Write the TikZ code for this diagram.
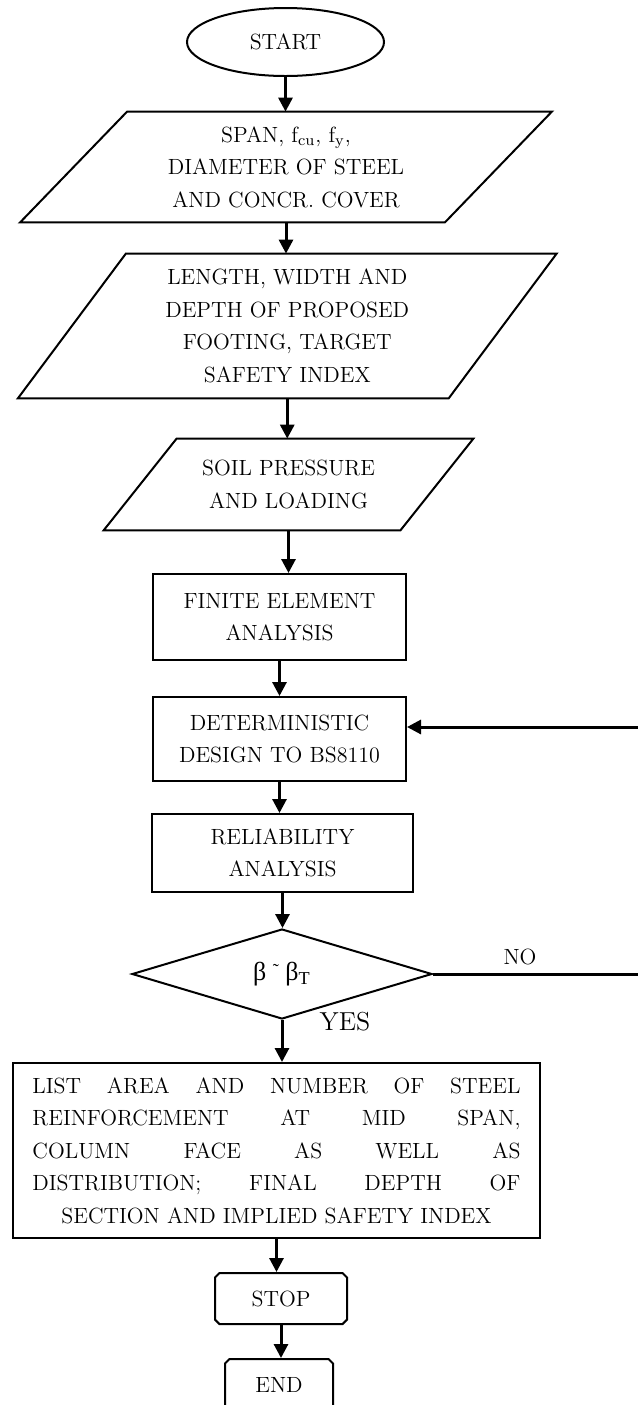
\documentclass[tikz,border=0pt]{standalone}
\usepackage{fontspec}
\newfontfamily\grk{Liberation Serif}
\usetikzlibrary{shapes.geometric,shapes.misc,arrows.meta,calc}
\begin{document}
\begin{tikzpicture}[x=0.5pt,y=-0.5pt,
  every node/.style={font=\fontsize{11}{16.25}\selectfont, align=center, inner sep=0pt},
  box/.style={draw, line width=1pt, rectangle},
  outline/.style={line width=1pt},
  arr/.style={line width=1.5pt, -{Triangle[width=7pt,length=7pt]}},
  fb/.style={line width=1.5pt},
  term/.style={draw, line width=1pt, chamfered rectangle, chamfered rectangle xsep=1.1pt, chamfered rectangle ysep=1.1pt}]
\useasboundingbox (0,0) rectangle (638,1405);

% START
\node[ellipse, draw, line width=1pt, minimum width=98.5pt, minimum height=34pt] (start) at (285.5,42) {START};

% parallelogram 1
\node[minimum width=212pt, minimum height=55pt] (p1) at (286,167)
  {SPAN, f\textsubscript{cu}, f\textsubscript{y},\\DIAMETER OF STEEL\\AND CONCR. COVER};
\draw[outline] ($(p1.north west)+(53.5,0)$) -- ($(p1.north east)+(53.5,0)$)
  -- ($(p1.south east)-(53.5,0)$) -- ($(p1.south west)-(53.5,0)$) -- cycle;

% parallelogram 2
\node[minimum width=215pt, minimum height=72pt] (p2) at (287.25,326)
  {LENGTH, WIDTH AND\\DEPTH OF PROPOSED\\FOOTING, TARGET\\SAFETY INDEX};
\draw[outline] ($(p2.north west)+(54,0)$) -- ($(p2.north east)+(54,0)$)
  -- ($(p2.south east)-(54,0)$) -- ($(p2.south west)-(54,0)$) -- cycle;

% parallelogram 3
\node[minimum width=148pt, minimum height=45.5pt] (p3) at (288.5,484.5)
  {SOIL PRESSURE\\AND LOADING};
\draw[outline] ($(p3.north west)+(36.5,0)$) -- ($(p3.north east)+(36.5,0)$)
  -- ($(p3.south east)-(36.5,0)$) -- ($(p3.south west)-(36.5,0)$) -- cycle;

% process boxes
\node[box, minimum width=126.5pt, minimum height=43pt] (fe) at (279.5,617) {FINITE ELEMENT\\ANALYSIS};
\node[box, minimum width=126.5pt, minimum height=42pt] (dd) at (279.5,739) {DETERMINISTIC\\DESIGN TO BS8110};
\node[box, minimum width=130.5pt, minimum height=39pt] (ra) at (282.5,853) {RELIABILITY\\ANALYSIS};

% decision
\node[diamond, draw, line width=1pt, minimum width=150pt, minimum height=45pt] (dec) at (282,974)
  {\fontsize{13}{15}\selectfont\grk β \raisebox{0.35ex}{\fontsize{9}{9}\selectfont ˜} β\textsubscript{T}};

% list box
\node[box, minimum width=263.5pt, minimum height=87.5pt] (list) at (276.5,1150.5)
  {\makebox[244pt][s]{LIST AREA AND NUMBER OF STEEL}\\
   \makebox[244pt][s]{REINFORCEMENT AT MID SPAN,}\\
   \makebox[244pt][s]{COLUMN FACE AS WELL AS}\\
   \makebox[244pt][s]{DISTRIBUTION; FINAL DEPTH OF}\\
   SECTION AND IMPLIED SAFETY INDEX};

% terminals
\node[term, minimum width=66pt, minimum height=25.5pt] (stop) at (281,1298.5) {STOP};
\node[term, minimum width=54pt, minimum height=26pt] (end) at (279,1385) {END};

% labels
\node (no) at (520,957) {NO};
\node[font=\fontsize{13}{15}\selectfont] (yes) at (345,1022) {YES};

% connectors
\draw[arr] (start.south) -- (start.south |- p1.north);
\draw[arr] (p1.south) -- (p1.south |- p2.north);
\draw[arr] (p2.south) -- (p2.south |- p3.north);
\draw[arr] (p3.south) -- (p3.south |- fe.north);
\draw[arr] (fe.south) -- (fe.south |- dd.north);
\draw[arr] (dd.south) -- (dd.south |- ra.north);
\draw[arr] (ra.south) -- (ra.south |- dec.north);
\draw[arr] (dec.south) -- (dec.south |- list.north);
\draw[arr] (list.south) -- (list.south |- stop.north);
\draw[arr] (stop.south) -- (stop.south |- end.north);

% feedback (NO branch)
\coordinate (r1) at (638,727);
\coordinate (r2) at (638,974);
\draw[fb] (dec.east) -- (r2);
\draw[arr] (r1) -- (dd.east |- r1);
\end{tikzpicture}
\end{document}
